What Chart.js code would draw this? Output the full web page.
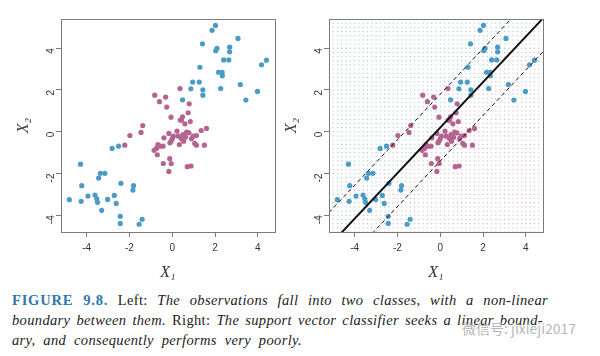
<!DOCTYPE html>
<html>
<head>
<meta charset="utf-8">
<script src="https://cdn.jsdelivr.net/npm/chart.js@4.4.1/dist/chart.umd.min.js"></script>
<style>
    body { margin: 0; background: #fff; width: 600px; height: 356px; overflow: hidden; position: relative; }
    #leftChart { position: absolute; left: 0; top: 0; }
    #rightChart { position: absolute; left: 268px; top: 0; }
    .caption { position: absolute; left: 12px; top: 290px; width: 540px; font-family: "Liberation Serif", serif; font-size: 14.5px; letter-spacing: 0.35px; color: #222; }
    .caption div { height: 20px; line-height: 20px; text-align: justify; text-align-last: justify; white-space: nowrap; }
    .caption div.l1 { width: 536px; }
    .caption div.l2 { width: 531px; }
    .caption div.l3 { width: 290px; }
    .caption i { font-style: italic; }
    .fig { color: #2f78ae; font-weight: bold; letter-spacing: 0.8px; }
    .watermark { position: absolute; left: 462px; top: 318px; font-family: "Noto Sans CJK SC", sans-serif; font-size: 14px; color: #b8b8b8; white-space: nowrap; }
</style>
</head>
<body>
<canvas id="leftChart" width="300" height="285"></canvas>
<canvas id="rightChart" width="332" height="285"></canvas>
<div class="caption">
    <div class="l1"><span class="fig">FIGURE 9.8.</span> Left: <i>The observations fall into two classes, with a non-linear</i></div>
    <div class="l2"><i>boundary between them.</i> Right: <i>The support vector classifier seeks a linear bound-</i></div>
    <div class="l3"><i>ary, and consequently performs very poorly.</i></div>
</div>
<div class="watermark">微信号: jixieji2017</div>
<script>
// --- data ---
const xTicks = [-4, -2, 0, 2, 4];
const yTicks = [-4, -2, 0, 2, 4];

// blue class: upper-right cluster, then lower-left cluster
const blueX1 = [2.02, 1.86, 1.41, 3.07, 2.09, 2.03, 2.68, 2.68, 2.40, 2.64, 4.40, 4.17, 1.29, 2.16, 2.33, 2.34, 0.95, 1.26, 0.87, 1.43, 1.43, 2.26, 3.18, 3.98, 3.44, 0.48,
    -4.29, -4.23, -4.81, -4.26, -3.94, -3.61, -3.53, -3.49, -3.36, -3.44, -3.15, -3.30, -3.02, -2.71, -2.62, -2.40, -2.43, -2.43, -1.81, -1.84, -1.41, -1.55, -2.81, -2.51];
const blueX2 = [5.09, 4.86, 4.21, 4.47, 4.00, 3.88, 4.05, 3.83, 3.44, 3.44, 3.43, 3.21, 3.09, 2.85, 2.85, 2.68, 2.38, 2.38, 2.06, 2.01, 1.75, 2.07, 2.26, 1.93, 1.52, 1.53,
    -1.55, -2.58, -3.25, -3.33, -3.08, -3.03, -3.21, -3.38, -1.99, -2.22, -1.99, -3.76, -3.24, -3.05, -3.43, -2.47, -4.05, -4.39, -2.58, -2.79, -4.19, -4.43, -0.80, -0.69];

// pink class: centre cluster
const pinkX1 = [-0.82, -0.31, 0.36, -0.60, -0.26, 0.79, -0.06, 0.48, 0.74, 0.37, 0.43, 0.59, 0.84, -1.38, -1.46, -1.98, -2.22,
    1.60, 1.35, 0.22, -0.16, 0.05, 0.00, -0.06, -0.39, -0.11, 0.50, 0.43, 0.33, 0.53, 0.67, 0.78, 0.98, 1.13, 0.90, 1.05, 1.13, 1.50,
    -0.67, -0.57, -0.43, -0.74, -0.85, -0.70, -0.12, -0.05, -0.42, -0.16, 0.70, 0.88, 0.28, 0.62];
const pinkX2 = [1.75, 1.66, 2.07, 1.44, 1.18, 1.34, 0.70, 0.72, 0.91, 0.56, 0.56, 0.38, 0.49, 0.30, -0.03, -0.18, -0.64,
    0.16, 0.06, 0.03, -0.08, -0.21, -0.33, -0.45, -0.29, -0.53, -0.13, -0.33, -0.61, -0.45, -0.02, -0.05, -0.21, -0.18, -0.33, -0.56, -0.64, -0.64,
    -0.61, -0.69, -0.69, -0.80, -0.89, -1.10, -1.29, -1.52, -1.52, -1.90, -1.67, -1.64, -0.21, -0.26];

// support vector classifier: solid boundary and dashed margins
const boundarySlope = 1.09;
const boundaryIntercepts = [0.2, 1.8, -1.4];

const xRange = [-5.2, 4.8];
const yRange = [-4.8, 5.4];
const gridStep = 0.2;

const BLUE = '#4a9cc6';
const PINK = '#b5648f';

function toPoints(xs, ys) {
    return xs.map((x, i) => ({ x: x, y: ys[i] }));
}

// box round the plot region, R style
const frameBox = {
    id: 'frameBox',
    afterDatasetsDraw(chart) {
        const a = chart.chartArea;
        const ctx = chart.ctx;
        ctx.save();
        ctx.strokeStyle = '#7a7a7a';
        ctx.lineWidth = 1;
        ctx.strokeRect(Math.round(a.left) + 0.5, Math.round(a.top) + 0.5, Math.round(a.right - a.left), Math.round(a.bottom - a.top));
        ctx.restore();
    }
};

function makePanel(canvasId, withBoundary, padRight) {
    const datasets = [];

    if (withBoundary) {
        boundaryIntercepts.forEach((b, i) => {
            datasets.push({
                type: 'line',
                data: xRange.map(x => ({ x: x, y: b + boundarySlope * x })),
                borderColor: '#111',
                borderWidth: i === 0 ? 2 : 1,
                borderDash: i === 0 ? [] : [4, 3],
                pointRadius: 0,
                fill: false,
                clip: 0
            });
        });
    }

    datasets.push({ data: toPoints(blueX1, blueX2), backgroundColor: BLUE, pointRadius: 2.6, borderWidth: 0 });
    datasets.push({ data: toPoints(pinkX1, pinkX2), backgroundColor: PINK, pointRadius: 2.6, borderWidth: 0 });

    if (withBoundary) {
        // classification lattice behind the points
        const upper = [], lower = [];
        for (let x = xRange[0]; x <= xRange[1] + 1e-9; x += gridStep) {
            for (let y = yRange[0]; y <= yRange[1] + 1e-9; y += gridStep) {
                if (y > boundaryIntercepts[0] + boundarySlope * x) upper.push({ x: x, y: y });
                else lower.push({ x: x, y: y });
            }
        }
        datasets.push({ data: upper, backgroundColor: '#a9c6d6', pointRadius: 0.65, borderWidth: 0 });
        datasets.push({ data: lower, backgroundColor: '#d6b3c4', pointRadius: 0.65, borderWidth: 0 });
    }

    new Chart(document.getElementById(canvasId), {
        type: 'scatter',
        data: { datasets: datasets },
        options: {
            responsive: false,
            animation: false,
            events: [],
            layout: { padding: { top: 19, right: padRight, left: 0, bottom: 0 } },
            plugins: { legend: { display: false }, tooltip: { enabled: false } },
            scales: {
                x: {
                    type: 'linear',
                    min: xRange[0],
                    max: xRange[1],
                    afterBuildTicks: s => { s.ticks = xTicks.map(v => ({ value: v })); },
                    afterFit: s => { s.height = 53; },
                    grid: { drawOnChartArea: false, drawTicks: true, tickLength: 5, color: '#7a7a7a' },
                    border: { display: false },
                    ticks: { font: { family: 'Liberation Sans', size: 10 }, color: '#333', padding: 5 },
                    title: { display: true, text: 'X₁', font: { family: 'Liberation Serif', style: 'italic', size: 16 }, color: '#333', padding: { top: 0, bottom: 3 } }
                },
                y: {
                    type: 'linear',
                    min: yRange[0],
                    max: yRange[1],
                    afterBuildTicks: s => { s.ticks = yTicks.map(v => ({ value: v })); },
                    afterFit: s => { s.width = 61; },
                    grid: { drawOnChartArea: false, drawTicks: true, tickLength: 5, color: '#7a7a7a' },
                    border: { display: false },
                    ticks: { font: { family: 'Liberation Sans', size: 10 }, color: '#333', padding: 5, minRotation: 90, maxRotation: 90 },
                    title: { display: true, text: 'X₂', font: { family: 'Liberation Serif', style: 'italic', size: 16 }, color: '#333', padding: { top: 14, bottom: 0 } }
                }
            }
        },
        plugins: [frameBox]
    });
}

makePanel('leftChart', false, 25);
makePanel('rightChart', true, 57);
</script>
</body>
</html>
